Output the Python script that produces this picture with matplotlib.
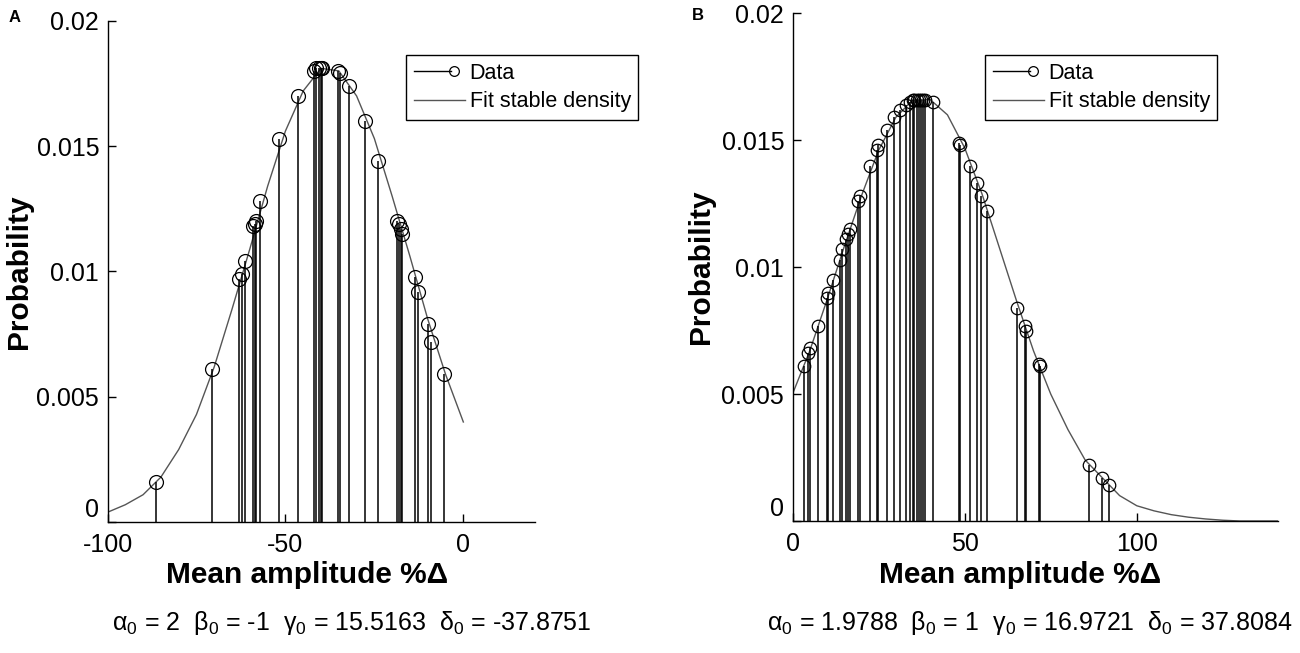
import matplotlib
matplotlib.use("Agg")
import matplotlib.pyplot as plt
from matplotlib.lines import Line2D
from matplotlib.legend_handler import HandlerBase

plt.rcParams['font.family'] = ['Liberation Sans', 'DejaVu Sans']
plt.rcParams['mathtext.fontset'] = 'custom'
plt.rcParams['mathtext.rm'] = 'Liberation Sans'
plt.rcParams['mathtext.it'] = 'Liberation Sans'

# ---- panel A data (negative shifts) ----
a_x = [-86.4, -70.7, -63.0, -62.3, -61.4, -59.0, -58.6, -58.2, -57.1,
       -51.7, -46.4, -42.0, -41.3, -40.7, -40.1, -39.6, -35.1, -34.8,
       -32.2, -27.6, -23.9, -18.6, -18.1, -17.6, -17.2, -13.7, -12.7,
       -9.8, -9.0, -5.3]
a_y = [0.0016, 0.0061, 0.0097, 0.0099, 0.0104, 0.0118, 0.0119, 0.0120, 0.0128,
       0.0153, 0.0170, 0.0180, 0.0181, 0.0181, 0.0181, 0.0181, 0.0180, 0.0179,
       0.0174, 0.0160, 0.0144, 0.0120, 0.0119, 0.0117, 0.0115, 0.0098, 0.0092,
       0.0079, 0.0072, 0.0059]
a_fit_x = [-100, -95, -90, -85, -80, -75, -70, -65, -60, -55, -50,
           -45, -40, -35, -30, -25, -20, -15, -10, -5, 0]
a_fit_y = [0.0004, 0.0007, 0.0011, 0.0018, 0.0029, 0.0043, 0.0062, 0.0085,
           0.0109, 0.0134, 0.0156, 0.0172, 0.0181, 0.0180, 0.0170, 0.0153,
           0.0130, 0.0106, 0.0081, 0.0059, 0.0040]
a_xticks = [-100, -50, 0]
a_params = (r'$\mathregular{α_0}$ = 2  $\mathregular{β_0}$ = -1  '
            r'$\mathregular{γ_0}$ = 15.5163  $\mathregular{δ_0}$ = -37.8751')

# ---- panel B data (positive shifts) ----
b_x = [3.4, 4.6, 5.2, 7.3, 10.0, 10.4, 11.8, 13.7, 14.5, 15.5, 16.1, 16.7,
       19.1, 19.5, 22.5, 24.6, 24.9, 27.3, 29.4, 31.2, 33.0, 34.2, 35.0,
       35.4, 36.1, 36.6, 37.2, 37.9, 38.5, 40.9, 48.4, 48.7, 51.5, 53.6,
       54.8, 56.4, 65.3, 67.5, 67.9, 71.5, 71.8, 86.2, 89.8, 91.9]
b_y = [0.0061, 0.0066, 0.0068, 0.0077, 0.0088, 0.0090, 0.0095, 0.0103,
       0.0107, 0.0111, 0.0113, 0.0115, 0.0126, 0.0128, 0.0140, 0.0146,
       0.0148, 0.0154, 0.0159, 0.0162, 0.0164, 0.0165, 0.0166, 0.0166,
       0.0166, 0.0166, 0.0166, 0.0166, 0.0166, 0.0165, 0.0149, 0.0148,
       0.0140, 0.0133, 0.0128, 0.0122, 0.0084, 0.0077, 0.0075, 0.0062,
       0.0061, 0.0022, 0.0017, 0.0014]
b_fit_x = [0, 5, 10, 15, 20, 25, 30, 35, 40, 45, 50, 55, 60, 65, 70, 75,
           80, 85, 90, 95, 100, 105, 110, 115, 120, 125, 130, 135, 141]
b_fit_y = [0.0050, 0.0067, 0.0087, 0.0108, 0.0128, 0.0146, 0.0159, 0.0166,
           0.0166, 0.0160, 0.0147, 0.0129, 0.0108, 0.0087, 0.0067, 0.0050,
           0.0036, 0.0024, 0.0017, 0.0010, 0.0006, 0.0004, 0.00025, 0.00015,
           0.00008, 0.00003, 0.0, 0.0, 0.0]
b_xticks = [0, 50, 100]
b_params = (r'$\mathregular{α_0}$ = 1.9788  $\mathregular{β_0}$ = 1  '
            r'$\mathregular{γ_0}$ = 16.9721  $\mathregular{δ_0}$ = 37.8084')

yticks = [0, 0.005, 0.01, 0.015, 0.02]
yticklabels = ['0', '0.005', '0.01', '0.015', '0.02']


class StemLegend(HandlerBase):
    # line with an open circle at its right end, like the MATLAB stem legend
    def create_artists(self, legend, orig_handle, xdescent, ydescent,
                       width, height, fontsize, trans):
        y = height / 2 - ydescent
        x0 = -xdescent
        line = Line2D([x0, x0 + 0.72 * width], [y, y], color='k', lw=1.0,
                      transform=trans)
        mark = Line2D([x0 + 0.78 * width], [y], marker='o', mfc='none',
                      mec='k', ms=7, mew=0.9, ls='none', transform=trans)
        return [line, mark]


def draw_panel(ax, x, y, fit_x, fit_y, xlim, xticks, msize):
    ax.plot(fit_x, fit_y, color='#555555', lw=1.0, zorder=2)
    ax.vlines(x, 0, y, color='k', lw=1.1, zorder=3)
    ax.plot(x, y, ls='none', marker='o', mfc='none', mec='k',
            ms=msize, mew=0.9, zorder=4)
    ax.set_xlim(xlim)
    ax.set_ylim(0, 0.02)
    ax.set_xticks(xticks)
    ax.set_xticklabels([str(t) for t in xticks])
    ax.set_yticks(yticks)
    ylabs = ax.set_yticklabels(yticklabels)
    ylabs[0].set_va('bottom')  # the zero label sits a little above the axis
    for s in ['top', 'right']:
        ax.spines[s].set_visible(False)
    for s in ['left', 'bottom']:
        ax.spines[s].set_linewidth(1.0)
    ax.tick_params(direction='in', length=6, width=1.0, labelsize=18)
    ax.tick_params(axis='x', pad=8)
    ax.tick_params(axis='y', pad=6)
    ax.set_xlabel('Mean amplitude %Δ', fontsize=21.5, fontweight='bold')
    ax.set_ylabel('Probability', fontsize=21.5, fontweight='bold')


W, H = 1300, 653
fig = plt.figure(figsize=(13, 6.53), dpi=100)

axA = fig.add_axes([107.5 / W, (H - 522.3) / H, 427 / W, 501.6 / H])
axB = fig.add_axes([792.5 / W, (H - 521) / H, 485.5 / W, 507.7 / H])

draw_panel(axA, a_x, a_y, a_fit_x, a_fit_y, (-100, 20), a_xticks, 10)
draw_panel(axB, b_x, b_y, b_fit_x, b_fit_y, (0, 141), b_xticks, 9)

# label positions in figure pixels
for ax, ylx, xlx, yc in [(axA, 19, 307, 271.5), (axB, 701, 1020, 267)]:
    ax.yaxis.label.set_va('center')
    ax.yaxis.set_label_coords(ylx / W, 1 - yc / H, transform=fig.transFigure)
    ax.xaxis.label.set_va('center')
    ax.xaxis.set_label_coords(xlx / W, 1 - 575 / H, transform=fig.transFigure)

handles = [object(), Line2D([], [], color='#555555', lw=1.0)]
labels = ['Data', 'Fit stable density']
for lx in [406, 985]:
    leg = fig.legend(handles, labels, handler_map={object: StemLegend()},
                     loc='upper left', bbox_to_anchor=(lx / W, 1 - 55 / H),
                     bbox_transform=fig.transFigure, borderaxespad=0,
                     fontsize=15.5, frameon=True, fancybox=False,
                     edgecolor='k', framealpha=1, handlelength=2.4,
                     handletextpad=0.2, borderpad=0.35, labelspacing=0.35)
    leg.get_frame().set_linewidth(1.0)

fig.text(352 / W, 1 - 623 / H, a_params, fontsize=18, ha='center', va='center')
fig.text(1030 / W, 1 - 623 / H, b_params, fontsize=18, ha='center', va='center')

fig.text(15 / W, 1 - 17 / H, 'A', fontsize=12, fontweight='bold', ha='center', va='center')
fig.text(698 / W, 1 - 16 / H, 'B', fontsize=12, fontweight='bold', ha='center', va='center')

fig.savefig('out.png', dpi=100)
